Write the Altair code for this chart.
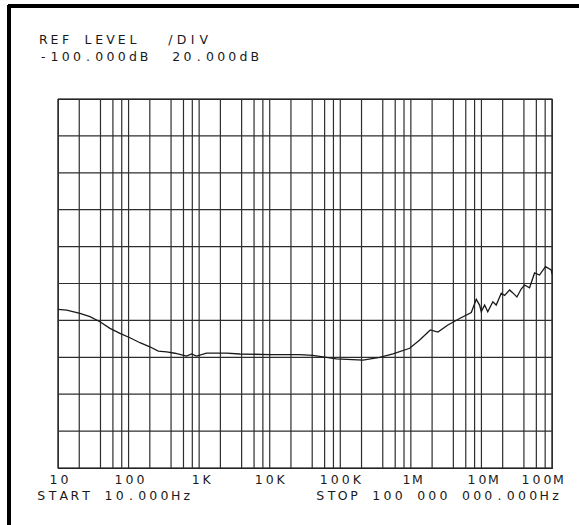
import altair as alt
import pandas as pd

# ---- data ----
FREQ_HZ = [10, 13.3, 20.5, 28.4, 39.3, 54.5, 75.5, 104.5, 145, 200,
           263, 346, 453, 664, 781, 919, 1274, 2444, 3770, 10020,
           26650, 40740, 88100, 210000, 361000, 558000, 962000, 1.333e6, 1.888e6, 2.42e6,
           3.35e6, 4.91e6, 7.18e6, 8.45e6, 9.42e6, 9.95e6, 11.1e6, 12.3e6, 14.5e6, 16.2e6,
           19.1e6, 21.3e6, 25.1e6, 27.9e6, 31.8e6, 36.6e6, 40.8e6, 48.1e6, 56.6e6, 66.5e6,
           80.9e6, 97.5e6, 100e6]
LEVEL_DB = [-214.0, -214.4, -216.2, -218.0, -220.7, -224.3, -227.0, -229.4, -232.1, -234.3,
            -236.6, -237.1, -237.8, -239.3, -238.2, -239.3, -237.7, -237.7, -238.2, -238.5,
            -238.6, -239.0, -240.9, -241.5, -240.1, -238.2, -235.1, -230.6, -225.2, -226.3,
            -222.5, -219.0, -215.7, -208.6, -211.7, -215.3, -211.7, -215.3, -209.9, -211.7,
            -205.3, -206.5, -203.5, -205.1, -207.3, -203.0, -200.8, -202.3, -194.3, -195.4,
            -190.9, -192.7, -194.9]

TICK_VALUES = [10, 100, 1e3, 1e4, 1e5, 1e6, 1e7, 1e8]
TICK_LABELS = ["10", "100", "1K", "10K", "100K", "1M", "10M", "100M"]
GRID_MULTS = [2, 4, 6, 8]
REF_LEVEL = -100
DB_PER_DIV = 20
N_DIV = 10

TEXTS = ["REF LEVEL", "/DIV", "-100.000dB", "20.000dB",
         "START 10.000Hz", "STOP 100 000 000.000Hz"]

# ---- layout / style ----
W, H = 494, 369
PAD_L, PAD_T = 58, 99
PITCH = 11.2
FONT = "DejaVu Sans"
FSIZE = 12.5
INK = "#1a1a1a"
GRID = "#2e2e2e"
TEXT_POS = [(39, 43.5), (166, 43.5), (39, 61), (172, 61), (37, 500), (316, 500)]
LABEL_SHIFT = [1, 1, 2, 0, 0, 1, 1, -10]

grid_x = sorted(TICK_VALUES + [m * t for t in TICK_VALUES[:-1] for m in GRID_MULTS])
y_lo = REF_LEVEL - DB_PER_DIV * N_DIV
grid_y = [y_lo + DB_PER_DIV * k for k in range(N_DIV + 1)]

xscale = alt.Scale(type="log", domain=[TICK_VALUES[0], TICK_VALUES[-1]], nice=False)
yscale = alt.Scale(domain=[y_lo, REF_LEVEL], nice=False, zero=False)

trace = pd.DataFrame({"f": FREQ_HZ, "db": LEVEL_DB})

vgrid = alt.Chart(pd.DataFrame({"f": grid_x})).mark_rule(color=GRID, strokeWidth=1.2).encode(
    x=alt.X("f:Q", scale=xscale, axis=None),
)
hgrid = alt.Chart(pd.DataFrame({"db": grid_y})).mark_rule(color=GRID, strokeWidth=1.2).encode(
    y=alt.Y("db:Q", scale=yscale, axis=None),
)

line_layer = alt.Chart(trace).mark_line(color=INK, strokeWidth=1.3, clip=True).encode(
    x=alt.X("f:Q", scale=xscale, axis=None),
    y=alt.Y("db:Q", scale=yscale, axis=None),
)

# axis labels drawn character by character (wide plotter lettering)
rows = []
for tv, lab, sh in zip(TICK_VALUES, TICK_LABELS, LABEL_SHIFT):
    n = len(lab)
    for i, ch in enumerate(lab):
        rows.append({"f": tv, "ch": ch, "dx": round((i - (n - 1) / 2) * 11 + sh, 1)})
lab_df = pd.DataFrame(rows)
label_layers = []
for dxv in sorted(lab_df["dx"].unique()):
    sub = lab_df[lab_df["dx"] == dxv]
    label_layers.append(
        alt.Chart(sub).mark_text(dx=float(dxv), font=FONT, fontSize=FSIZE, color=INK,
                                 align="center", baseline="alphabetic").encode(
            x=alt.X("f:Q", scale=xscale, axis=None),
            y=alt.value(483.5 - PAD_T),
            text="ch:N",
        )
    )

plot = alt.layer(vgrid, hgrid, line_layer, *label_layers)

# header / footer text, character by character
trows = []
for s, (left, base) in zip(TEXTS, TEXT_POS):
    for i, ch in enumerate(s):
        if ch != " ":
            trows.append({"px": left - PAD_L + 4.3 + i * PITCH, "py": base - PAD_T, "ch": ch})
txt_df = pd.DataFrame(trows)
text_layer = alt.Chart(txt_df).mark_text(font=FONT, fontSize=FSIZE, color=INK,
                                         align="center", baseline="alphabetic").encode(
    x=alt.X("px:Q", scale=None, axis=None),
    y=alt.Y("py:Q", scale=None, axis=None),
    text="ch:N",
)

left_border = alt.Chart(trace).mark_rule(color="black", strokeWidth=2.6).encode(
    x=alt.value(9 - PAD_L), y=alt.value(5 - PAD_T), y2=alt.value(525 - PAD_T))
top_border = alt.Chart(trace).mark_rule(color="black", strokeWidth=2.6).encode(
    y=alt.value(6 - PAD_T), x=alt.value(8 - PAD_L), x2=alt.value(579 - PAD_L))

chart = alt.layer(plot, text_layer, left_border, top_border).resolve_scale(
    x="independent", y="independent"
).properties(
    width=W, height=H,
    padding={"left": PAD_L, "top": PAD_T, "right": 579 - PAD_L - W, "bottom": 525 - PAD_T - H},
    autosize=alt.AutoSizeParams(type="none"),
    background="white",
).configure_view(stroke=INK, strokeWidth=1.2)

chart.save("out.html", embed_options={"renderer": "svg", "actions": False})
